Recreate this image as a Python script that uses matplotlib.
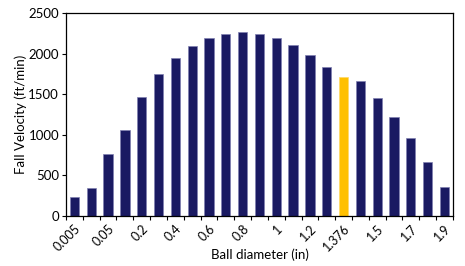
import numpy as np
import matplotlib
matplotlib.use('Agg')
import matplotlib.pyplot as plt

# ball diameters (in); only every other one is labelled on the chart
diameters = ['0.005', '0.01', '0.05', '0.1', '0.2', '0.3', '0.4', '0.5', '0.6', '0.7',
             '0.8', '0.9', '1', '1.1', '1.2', '1.3', '1.376', '1.4', '1.5', '1.6',
             '1.7', '1.8', '1.9']
fall_velocity = [235, 338, 758, 1062, 1466, 1750, 1951, 2096, 2191, 2248,
                 2265, 2248, 2191, 2104, 1985, 1840, 1709, 1664, 1454, 1215,
                 960, 667, 351]
highlight = '1.376'

plt.rcParams['font.family'] = ['Lato', 'DejaVu Sans']

fig = plt.figure(figsize=(4.65, 2.66), dpi=100)
ax = fig.add_axes([0.142, 0.189, 0.832, 0.761])

x = np.arange(len(diameters))
colors = ['#ffc000' if d == highlight else '#1a1a62' for d in diameters]
edges = ['#ffd966' if d == highlight else '#8080b0' for d in diameters]
ax.bar(x, fall_velocity, width=0.55, color=colors, edgecolor=edges, linewidth=0.5)

ax.set_xlim(-0.5, len(diameters) - 0.5)
ax.set_ylim(0, 2500)
ax.set_yticks(np.arange(0, 2501, 500))

# tick marks on category boundaries, labels on every other category
ax.set_xticks(np.arange(-0.5, len(diameters), 1.0), minor=True)
ax.set_xticks(x[::2])
ax.set_xticklabels(diameters[::2], rotation=45, ha='right', rotation_mode='anchor')
ax.tick_params(axis='x', which='major', length=0, pad=5, labelsize=9)
ax.tick_params(axis='x', which='minor', length=3, width=0.8)
ax.tick_params(axis='y', length=3, width=0.8, labelsize=9.5, pad=2)

for s in ax.spines.values():
    s.set_linewidth(0.9)

ax.set_xlabel('Ball diameter (in)', fontsize=9.5, labelpad=-4)
ax.set_ylabel('Fall Velocity (ft/min)', fontsize=9.5, labelpad=1)

fig.savefig('out.png', dpi=100)
